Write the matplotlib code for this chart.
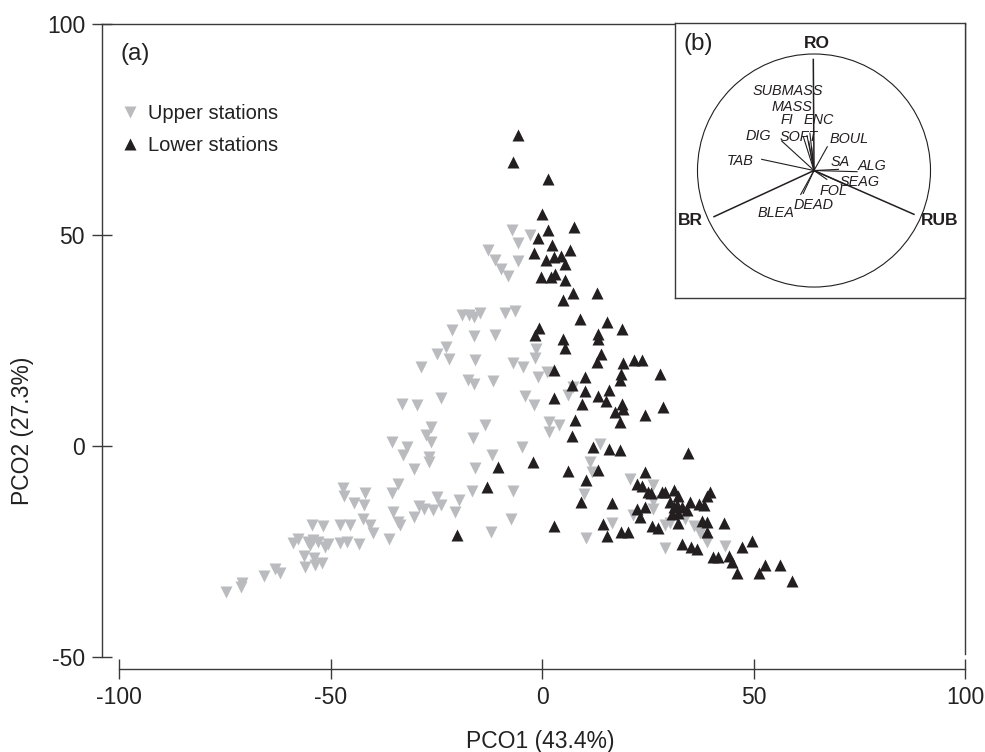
import matplotlib
matplotlib.use("Agg")
import matplotlib.pyplot as plt
from matplotlib.lines import Line2D
from matplotlib.patches import Circle
import numpy as np

plt.rcParams['font.family'] = ['Liberation Sans', 'DejaVu Sans']

# ---------------- data ----------------
upper_x = [-74.7, -71.3, -71.0, -65.7, -63.2, -62.0, -56.2, -56.1, -53.9, -53.7,
           -52.1, -59.0, -57.8, -55.3, -54.1, -52.9, -54.9, -51.3, -50.7, -54.4,
           -51.7, -47.9, -46.2, -43.4, -47.8, -45.4, -47.1, -46.8, -44.5, -41.9,
           -42.0, -42.4, -40.8, -40.1, -36.1, -35.5, -34.0, -35.3, -34.0, -33.6,
           -30.4, -29.0, -27.9, -25.7, -24.8, -35.5, -32.0, -33.0, -30.4, -26.3,
           -27.4, -26.3, -26.7, -26.8, -33.2, -29.6, -23.9, -19.0, -17.4, -16.2,
           -14.8, -8.8, -6.4, -21.4, -16.0, -11.1, -22.7, -24.8, -22.1, -28.7,
           -15.8, -6.8, -4.4, -1.7, -1.5, -17.6, -16.1, -11.5, -0.9, 1.1,
           7.4, 6.2, -4.1, -2.0, -13.5, -16.4, -4.8, -11.9, -15.8, 1.7,
           4.0, 1.7, 13.6, 11.4, 11.8, 9.8, -24.0, -19.6, -20.6, -16.6,
           -6.9, -7.4, -12.1, 10.3, -7.2, -2.8, -5.6, -12.7, -11.1, -9.8,
           -8.0, -5.8, 20.8, 26.2, 26.3, 26.2, 21.6, 16.5, 29.1, 30.3,
           33.8, 36.0, 37.4, 38.6, 39.0, 29.1, 43.3]
upper_y = [-34.6, -33.6, -32.5, -30.9, -29.3, -30.1, -26.2, -28.7, -26.7, -28.2,
           -27.9, -23.0, -22.2, -22.8, -22.4, -22.8, -23.6, -24.0, -23.2, -18.8,
           -19.1, -23.0, -22.8, -23.2, -18.8, -18.8, -10.1, -12.0, -13.7, -11.3,
           -14.1, -17.5, -18.8, -20.8, -22.2, -11.3, -9.0, -15.7, -18.1, -18.8,
           -16.9, -14.3, -14.9, -15.3, -12.1, 0.9, -0.3, -2.3, -5.6, 4.5,
           2.5, 0.9, -2.8, -3.8, 10.0, 9.6, 11.3, 31.1, 31.1, 30.4,
           31.5, 31.5, 31.9, 27.4, 26.1, 26.2, 23.3, 21.8, 20.5, 18.7,
           20.3, 19.5, 18.7, 20.9, 23.0, 15.5, 14.6, 15.4, 16.3, 17.5,
           13.9, 12.0, 11.7, 9.6, 4.9, 1.8, -0.2, -2.3, -5.3, 5.6,
           5.0, 3.2, 0.4, -3.9, -6.2, -11.4, -14.1, -12.9, -15.7, -10.7,
           -10.8, -17.5, -20.5, -21.8, 51.1, 50.0, 48.1, 46.5, 44.0, 42.0,
           40.2, 43.8, -8.0, -9.4, -13.1, -15.1, -16.5, -18.3, -18.8, -18.4,
           -17.5, -19.1, -20.7, -21.8, -22.8, -24.2, -23.8]

lower_x = [-5.6, -6.8, 1.5, -0.1, 1.5, 7.6, -1.0, 2.3, -1.8, 0.9,
           2.7, 4.5, 6.6, 5.3, -0.2, 2.1, 3.1, 5.3, 7.2, 4.9,
           12.9, 9.0, -0.7, -1.7, 5.0, 5.3, 15.3, 18.9, 13.3, 13.3,
           13.9, 12.9, 19.2, 21.8, 23.6, 18.6, 18.4, 27.9, 2.7, 10.2,
           7.0, 10.2, 15.9, 13.3, 15.1, 2.7, 9.4, 18.9, 19.2, 17.3,
           28.7, 24.4, 18.4, 7.8, 7.0, 12.1, 15.7, 18.4, 34.6, -2.1,
           -10.5, 6.2, 13.3, 10.4, -13.1, 24.4, 22.4, 23.6, 25.1, 25.7,
           28.3, 29.1, 31.1, 32.2, 39.7, 39.0, 30.3, 31.1, 31.9, 33.0,
           30.7, 32.2, 34.2, 35.0, 37.0, 38.2, 9.2, 16.5, 22.5, 24.4,
           23.2, 32.2, 37.8, 39.0, 43.0, 2.8, 14.4, 25.9, 27.5, 15.4,
           18.6, 20.2, 39.0, 33.0, 35.2, 36.6, 47.2, 49.6, 40.5, 41.7,
           44.3, 44.9, 46.1, 52.7, 56.3, 51.4, 59.1, -20.2]
lower_y = [73.6, 67.3, 63.2, 54.9, 51.2, 51.8, 49.3, 47.5, 45.7, 44.0,
           44.7, 45.1, 46.3, 43.0, 39.9, 40.0, 40.6, 39.2, 36.3, 34.5,
           36.1, 30.1, 28.0, 26.2, 25.4, 23.2, 29.3, 27.6, 26.6, 25.4,
           21.8, 19.9, 19.6, 20.3, 20.3, 17.1, 15.5, 17.1, 17.9, 16.3,
           14.3, 13.0, 13.3, 11.7, 10.6, 11.3, 10.0, 10.0, 8.8, 8.0,
           9.2, 7.2, 5.6, 6.0, 2.3, -0.3, -0.8, -1.1, -1.8, -3.8,
           -5.0, -5.9, -5.8, -8.2, -9.9, -6.2, -9.1, -9.6, -10.9, -11.3,
           -10.9, -10.9, -10.5, -12.0, -10.9, -12.0, -13.3, -14.6, -14.1, -14.5,
           -16.1, -15.9, -15.3, -13.3, -13.9, -14.1, -13.3, -13.6, -14.9, -14.6,
           -16.9, -18.4, -17.8, -18.1, -18.3, -19.1, -18.6, -19.1, -19.6, -21.4,
           -20.4, -20.4, -20.4, -23.3, -24.1, -24.4, -24.0, -22.6, -26.4, -26.4,
           -26.2, -27.5, -30.1, -28.3, -28.3, -30.3, -32.1, -21.3]

x_ticks = [-100, -50, 0, 50, 100]
y_ticks = [-50, 0, 50, 100]

# correlation-circle vectors for the inset (b)
main_vars = ['RO', 'RUB', 'BR']
main_vx = [-0.006, 0.858, -0.858]
main_vy = [0.953, -0.376, -0.396]
main_lx = [0.023, 1.082, -1.06]
main_ly = [1.086, -0.425, -0.425]

minor_vx = [-0.449, -0.277, -0.09, -0.06, -0.035, -0.045, -0.02, 0.114, 0.21, 0.37, 0.28, 0.11, -0.092, -0.114]
minor_vy = [0.096, 0.253, 0.285, 0.30, 0.32, 0.25, 0.2, 0.204, 0.01, -0.01, -0.125, -0.076, -0.196, -0.205]

minor_names = ['SUBMASS', 'MASS', 'FI', 'ENC', 'DIG', 'SOFT', 'BOUL', 'TAB',
               'SA', 'ALG', 'SEAG', 'FOL', 'DEAD', 'BLEA']
minor_lx = [-0.221, -0.191, -0.229, 0.043, -0.478, -0.129, 0.303, -0.635,
            0.229, 0.495, 0.395, 0.165, 0.0, -0.33]
minor_ly = [0.685, 0.542, 0.433, 0.433, 0.296, 0.285, 0.268, 0.082,
            0.076, 0.039, -0.096, -0.172, -0.30, -0.365]

GREY = '#babbbf'
BLACK = '#231f20'
SPINE = '#3a3a3a'

# ---------------- figure ----------------
fig = plt.figure(figsize=(9.85, 7.52), dpi=100)
ax = fig.add_axes([102 / 985, 1 - 669 / 752, 863 / 985, 645 / 752])

ax.plot(upper_x, upper_y, linestyle='none', marker='v', ms=8.8,
        mfc=GREY, mec='none', zorder=3)
ax.plot(lower_x, lower_y, linestyle='none', marker='^', ms=8.8,
        mfc=BLACK, mec='none', zorder=4)

ax.set_xlim(-104.07, 100)
ax.set_ylim(-52.96, 100)
ax.set_xticks(x_ticks)
ax.set_yticks(y_ticks)
ax.set_xticklabels([str(t) for t in x_ticks])
ax.set_yticklabels([str(t) for t in y_ticks])

for s in ax.spines.values():
    s.set_color(SPINE)
    s.set_linewidth(1.0)
ax.spines['left'].set_bounds(-50, 100)
ax.spines['bottom'].set_bounds(-100, 100)
ax.spines['right'].set_bounds(-49.5, 100)

ax.tick_params(axis='both', direction='inout', length=14.4, width=1.0,
               color=SPINE, labelsize=16.5, pad=5, labelcolor='#222222')
ax.tick_params(top=False, right=False)

ax.set_xlabel('PCO1 (43.4%)', fontsize=16.5, color='#222222')
ax.xaxis.set_label_coords(0.5075, -0.094)
ax.set_ylabel('PCO2 (27.3%)', fontsize=16.5, color='#222222')
ax.yaxis.set_label_coords(-0.079, 0.37)

ax.text(0.021, 0.9535, '(a)', transform=ax.transAxes, fontsize=17.5,
        va='center', ha='left', color='#222222')

handles = [Line2D([], [], linestyle='none', marker='v', ms=8.8, mfc=GREY, mec='none'),
           Line2D([], [], linestyle='none', marker='^', ms=8.8, mfc=BLACK, mec='none')]
leg = ax.legend(handles, ['Upper stations', 'Lower stations'], loc='upper left',
                bbox_to_anchor=(0.0255, 0.876), frameon=False, fontsize=14.5,
                handlelength=0.6, handletextpad=0.6, labelspacing=0.66,
                borderpad=0, borderaxespad=0)
for t in leg.get_texts():
    t.set_color('#222222')

# ---------------- inset (b) ----------------
ins = fig.add_axes([675 / 985, 1 - 298 / 752, 290 / 985, 275 / 752])
ins.set_xlim(-1.193, 1.296)
ins.set_ylim(-1.094, 1.266)
ins.set_xticks([])
ins.set_yticks([])
for s in ins.spines.values():
    s.set_color(SPINE)
    s.set_linewidth(1.0)
ins.add_patch(Circle((0, 0), 1.0, fill=False, ec=BLACK, lw=0.8))

for vx, vy in zip(main_vx, main_vy):
    ins.plot([0, vx], [0, vy], color=BLACK, lw=1.1)
for name, lx, ly in zip(main_vars, main_lx, main_ly):
    ins.text(lx, ly, name, fontsize=12.5, fontweight='bold', ha='center',
             va='center', color=BLACK)
for vx, vy in zip(minor_vx, minor_vy):
    ins.plot([0, vx], [0, vy], color=BLACK, lw=0.8)
for name, lx, ly in zip(minor_names, minor_lx, minor_ly):
    ins.text(lx, ly, name, fontsize=10.4, style='italic', ha='center',
             va='center', color=BLACK)
ins.text(-1.12, 1.086, '(b)', fontsize=17.5, ha='left', va='center', color='#222222')

fig.savefig('out.png', dpi=100)
